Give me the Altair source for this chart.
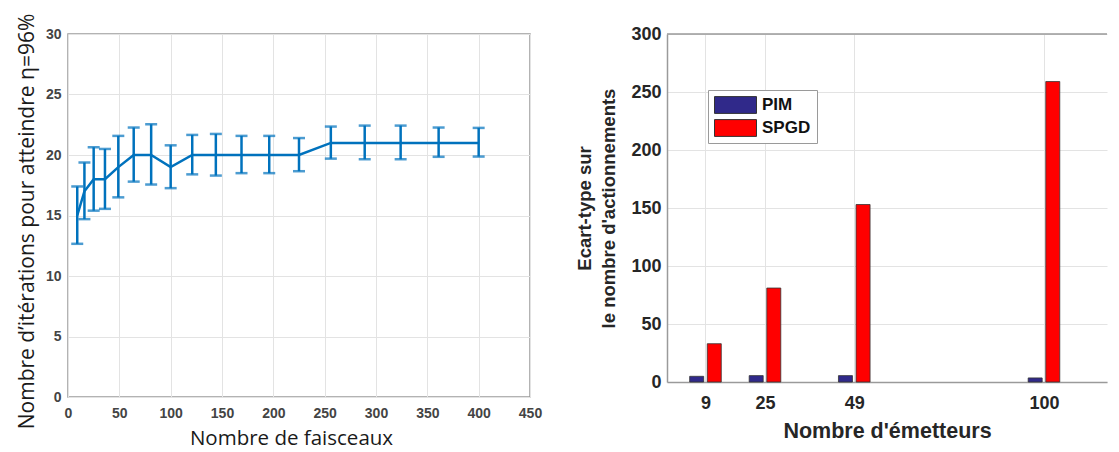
import altair as alt
import pandas as pd

# ---- Left chart data ----
faisceaux = [9, 16, 25, 36, 49, 64, 81, 100, 121, 144, 169, 196, 225, 256, 289, 324, 361, 400]
iterations = [15, 17, 18, 18, 19, 20, 20, 19, 20, 20, 20, 20, 20, 21, 21, 21, 21, 21]
err_low = [12.66, 14.7, 15.4, 15.55, 16.5, 17.8, 17.56, 17.26, 18.4, 18.3, 18.5, 18.5, 18.66,
           19.7, 19.65, 19.65, 19.85, 19.87]
err_high = [17.4, 19.38, 20.64, 20.5, 21.58, 22.27, 22.54, 20.8, 21.66, 21.74, 21.58, 21.58, 21.4,
            22.35, 22.43, 22.43, 22.27, 22.24]
left_xticks = [0, 50, 100, 150, 200, 250, 300, 350, 400, 450]
left_yticks = [0, 5, 10, 15, 20, 25, 30]

# ---- Right chart data ----
emetteurs = [9, 25, 49, 100]
pim = [4.9, 5.5, 5.5, 3.5]
spgd = [33, 81, 153, 259]
series_names = ["PIM", "SPGD"]
right_yticks = [0, 50, 100, 150, 200, 250, 300]

BLUE = "#0072BD"
GRID = "#e3e3e3"

dl = pd.DataFrame({"n": faisceaux, "it": iterations, "lo": err_low, "hi": err_high})

left_x_axis = alt.Axis(values=left_xticks, title="Nombre de faisceaux", grid=True, gridColor=GRID,
                       ticks=False, domain=False, labelFlush=False, labelFont="Liberation Sans",
                       labelFontWeight="bold", labelFontSize=14, labelColor="#444444", labelPadding=9,
                       titleFont="Open Sans", titleFontSize=20.5, titleFontWeight="normal",
                       titleColor="#1a1a1a", titlePadding=8, titleX=223)
left_y_axis = alt.Axis(values=left_yticks, title="Nombre d’itérations pour atteindre η=96%", grid=True,
                       gridColor=GRID, ticks=False, domain=False, labelFlush=False,
                       labelFont="Liberation Sans", labelFontWeight="bold", labelFontSize=14,
                       labelColor="#444444", labelPadding=7,
                       titleFont="Open Sans", titleFontSize=21, titleFontWeight="normal",
                       titleColor="#1a1a1a", titlePadding=8, titleY=187)
xsc = alt.Scale(domain=[0, 450], nice=False)
ysc = alt.Scale(domain=[0, 30], nice=False)

base_l = alt.Chart(dl)
line = base_l.mark_line(color=BLUE, strokeWidth=2.5).encode(
    x=alt.X("n:Q", scale=xsc, axis=left_x_axis),
    y=alt.Y("it:Q", scale=ysc, axis=left_y_axis),
)
bars_err = base_l.mark_rule(color=BLUE, strokeWidth=2.5).encode(
    x=alt.X("n:Q", scale=xsc, axis=left_x_axis),
    y=alt.Y("lo:Q", scale=ysc, axis=left_y_axis),
    y2="hi:Q",
)
cap_lo = base_l.mark_tick(color=BLUE, orient="horizontal", size=12, thickness=2.5).encode(
    x=alt.X("n:Q", scale=xsc, axis=left_x_axis),
    y=alt.Y("lo:Q", scale=ysc, axis=left_y_axis),
)
cap_hi = base_l.mark_tick(color=BLUE, orient="horizontal", size=12, thickness=2.5).encode(
    x=alt.X("n:Q", scale=xsc, axis=left_x_axis),
    y=alt.Y("hi:Q", scale=ysc, axis=left_y_axis),
)
left = alt.layer(line, bars_err, cap_lo, cap_hi).properties(
    width=462, height=363, view=alt.ViewBackground(stroke="#9a9a9a", strokeWidth=1.5)
)

# ---- Right chart ----
rows = []
for e, p, s in zip(emetteurs, pim, spgd):
    rows.append({"n": e, "v": p, "series": series_names[0]})
    rows.append({"n": e, "v": s, "series": series_names[1]})
dr = pd.DataFrame(rows)

right_x_axis = alt.Axis(values=emetteurs, title="Nombre d'émetteurs", grid=True, gridColor=GRID,
                        ticks=False, domain=True, domainColor="#9a9a9a", domainWidth=1.5,
                        labelFlush=False, labelFont="Liberation Sans", labelFontWeight="bold",
                        labelFontSize=18, labelColor="#262626", labelPadding=12,
                        titleFont="Liberation Sans", titleFontSize=21.5, titleFontWeight="bold",
                        titleColor="#262626", titlePadding=8)
right_y_axis = alt.Axis(values=right_yticks, title=["Ecart-type sur", "le nombre d'actionnements"],
                        grid=True, gridColor=GRID, ticks=False, domain=True, domainColor="#9a9a9a",
                        domainWidth=1.5, labelFlush=False, labelFont="Liberation Sans",
                        labelFontWeight="bold", labelFontSize=18, labelColor="#262626", labelPadding=6,
                        titleFont="Liberation Sans", titleFontSize=18.5, titleFontWeight="bold",
                        titleColor="#262626", titlePadding=12, titleLineHeight=24)
rxsc = alt.Scale(domain=[0, 115.6], nice=False)
rysc = alt.Scale(domain=[0, 300], nice=False)
color = alt.Color("series:N", scale=alt.Scale(domain=series_names, range=["#30298a", "#ff0000"]),
                  legend=alt.Legend(title=None, orient="none", legendX=640, legendY=56,
                                    symbolType="M-1,-0.4H1V0.4H-1Z", symbolSize=1764,
                                    symbolStrokeColor="#333333", symbolStrokeWidth=1,
                                    symbolOpacity=1, labelFont="Liberation Sans",
                                    labelFontWeight="bold", labelFontSize=17, labelColor="#111111",
                                    labelOffset=5, strokeColor="#9a9a9a", fillColor="white",
                                    padding=6, clipHeight=18, rowPadding=5))

base_r = alt.Chart(dr)
b_pim = base_r.transform_filter(alt.datum.series == "PIM").mark_bar(
    width=14, xOffset=-8.8, stroke="#333333", strokeWidth=0.8).encode(
    x=alt.X("n:Q", scale=rxsc, axis=right_x_axis),
    y=alt.Y("v:Q", scale=rysc, axis=right_y_axis),
    color=color,
)
b_spgd = base_r.transform_filter(alt.datum.series == "SPGD").mark_bar(
    width=14, xOffset=8.8, stroke="#333333", strokeWidth=0.8).encode(
    x=alt.X("n:Q", scale=rxsc, axis=right_x_axis),
    y=alt.Y("v:Q", scale=rysc, axis=right_y_axis),
    color=color,
)
top_rule = alt.Chart(pd.DataFrame({"top": [300]})).mark_rule(color="#9a9a9a", strokeWidth=1.5).encode(
    y=alt.Y("top:Q", scale=rysc, axis=right_y_axis)
)
right = alt.layer(b_pim, b_spgd, top_rule).properties(
    width=440, height=348, view=alt.ViewBackground(stroke=None)
)

chart = alt.hconcat(left, right, spacing=32).properties(
    padding={"left": 7, "top": 4, "right": 0, "bottom": 0}
).configure(background="white")

chart.save("out.html", embed_options={"renderer": "svg", "actions": False})
